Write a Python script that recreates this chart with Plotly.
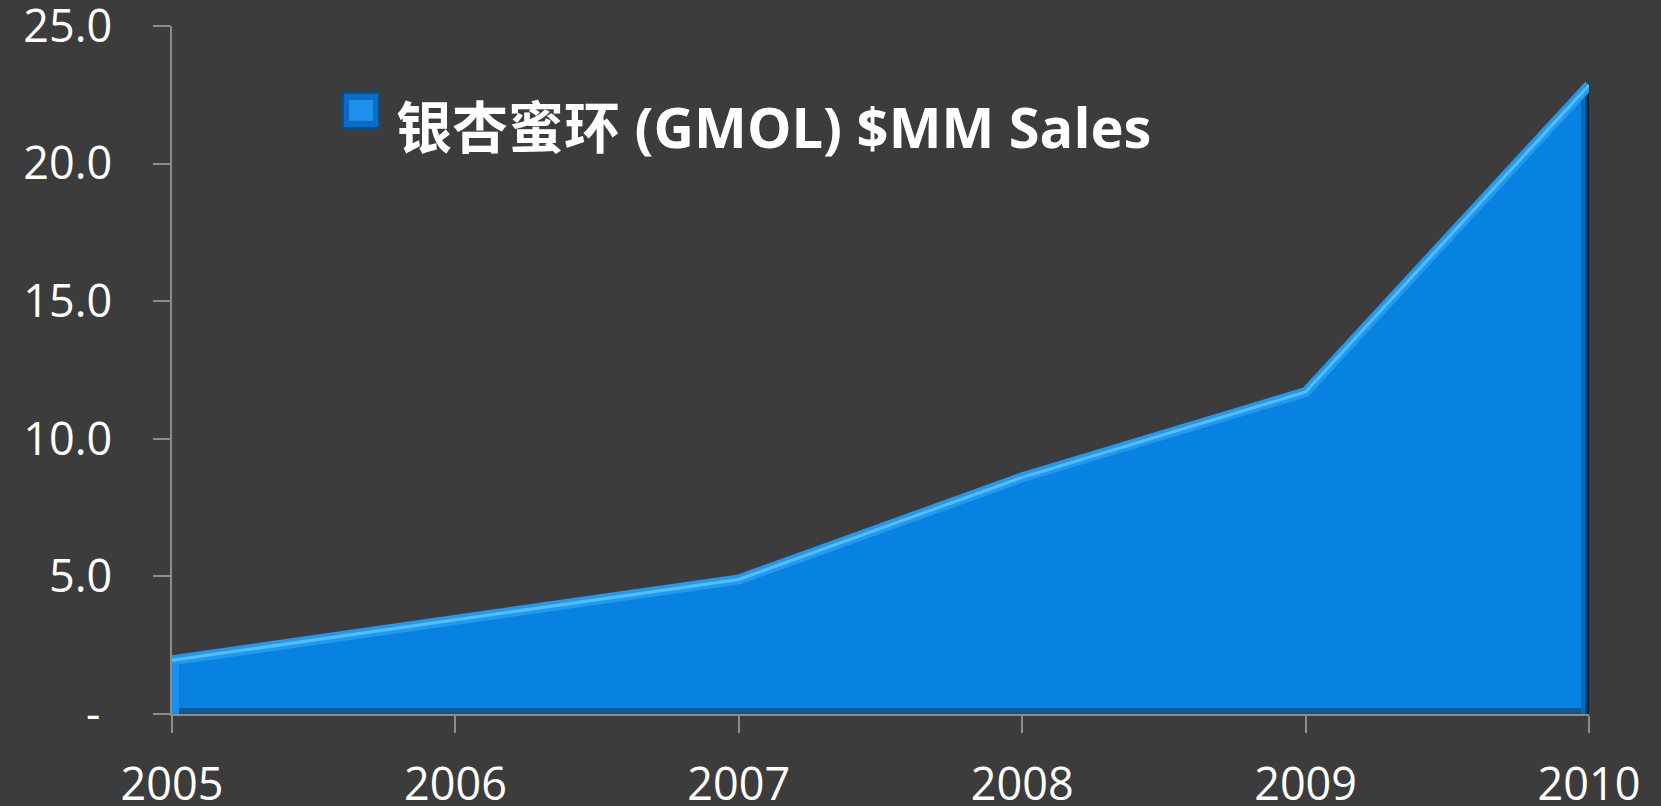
import plotly.graph_objects as go

years = [2005, 2006, 2007, 2008, 2009, 2010]
year_labels = ["2005", "2006", "2007", "2008", "2009", "2010"]
sales = [1.95, 3.43, 4.89, 8.6, 11.7, 22.85]
series_name = "银杏蜜环 (GMOL) $MM Sales"
y_tickvals = [0, 5, 10, 15, 20, 25]
y_ticktext = ["-\u00a0", "5.0", "10.0", "15.0", "20.0", "25.0"]

BG = "#3c3c3c"
AREA = "#0782e0"
AXIS = "#8c8c8c"
FONT = "Open Sans, Noto Sans CJK SC, sans-serif"

fig = go.Figure()

# main area
fig.add_trace(go.Scatter(
    x=years, y=sales, mode="lines", fill="tozeroy",
    fillcolor=AREA, line=dict(color=AREA, width=0),
    name=series_name, showlegend=False, hoverinfo="x+y"))

# bevel: bottom dark band
fig.add_trace(go.Scatter(
    x=[years[0], years[-1]], y=[0, 0], mode="lines",
    line=dict(color="#0a5a9e", width=12), showlegend=False, hoverinfo="skip"))
fig.add_trace(go.Scatter(
    x=[years[0], years[-1]], y=[0, 0], mode="lines",
    line=dict(color="#1f4f7a", width=4), showlegend=False, hoverinfo="skip"))
# bevel: left lighter edge
fig.add_trace(go.Scatter(
    x=[years[0], years[0]], y=[0, sales[0]], mode="lines",
    line=dict(color="#1a8ff0", width=14), showlegend=False, hoverinfo="skip"))
# bevel: right dark edge
fig.add_trace(go.Scatter(
    x=[years[-1], years[-1]], y=[0, sales[-1]], mode="lines",
    line=dict(color="#0568b8", width=16), showlegend=False, hoverinfo="skip"))
fig.add_trace(go.Scatter(
    x=[years[-1], years[-1]], y=[0, sales[-1]], mode="lines",
    line=dict(color="#033e6e", width=7), showlegend=False, hoverinfo="skip"))
fig.add_trace(go.Scatter(
    x=[years[-1], years[-1]], y=[0, sales[-1]], mode="lines",
    line=dict(color="#011d35", width=3), showlegend=False, hoverinfo="skip"))

# bevel: top highlight
fig.add_trace(go.Scatter(
    x=years, y=sales, mode="lines",
    line=dict(color="#2199f2", width=10), showlegend=False, hoverinfo="skip"))
fig.add_trace(go.Scatter(
    x=years, y=sales, mode="lines",
    line=dict(color="#55bdfc", width=3), showlegend=False, hoverinfo="skip"))

axis_common = dict(
    showline=True, linecolor=AXIS, linewidth=1.5,
    ticks="outside", ticklen=17, tickcolor=AXIS, tickwidth=1.5,
    showgrid=False, zeroline=False,
    tickfont=dict(family=FONT, size=45, color="white"),
    automargin=False, ticklabeloverflow="allow",
)

fig.update_xaxes(range=[years[0], years[-1]], tickvals=years, ticktext=year_labels,
                 ticklabelstandoff=13, **axis_common)
fig.update_yaxes(range=[0, 25], tickvals=y_tickvals, ticktext=y_ticktext,
                 ticklabelstandoff=32, **axis_common)

# legend (icon + text)
fig.add_shape(type="rect", xref="paper", yref="paper",
              x0=0.1207, x1=0.1461, y0=0.8517, y1=0.9026,
              fillcolor="#0a6cc4", line=dict(color="#0a4f8c", width=2), layer="above")
fig.add_shape(type="rect", xref="paper", yref="paper",
              x0=0.1250, x1=0.1418, y0=0.8620, y1=0.8923,
              fillcolor="#1f90ee", line=dict(width=0), layer="above")
fig.add_annotation(xref="paper", yref="paper", x=0.1565, y=0.855,
                   xanchor="left", yanchor="middle", showarrow=False,
                   text="<b>" + series_name + "</b>",
                   font=dict(family=FONT, size=56, color="white"))

fig.update_layout(
    width=1661, height=806,
    margin=dict(l=172, r=72, t=26, b=92, pad=0),
    paper_bgcolor=BG, plot_bgcolor=BG,
    showlegend=False,
)

fig.write_html("out.html",
               config={"displayModeBar": False},
               post_script="document.body.style.margin='0';document.body.style.padding='0';"
                           "document.body.style.overflow='hidden';"
                           "document.body.style.background='" + BG + "';")
